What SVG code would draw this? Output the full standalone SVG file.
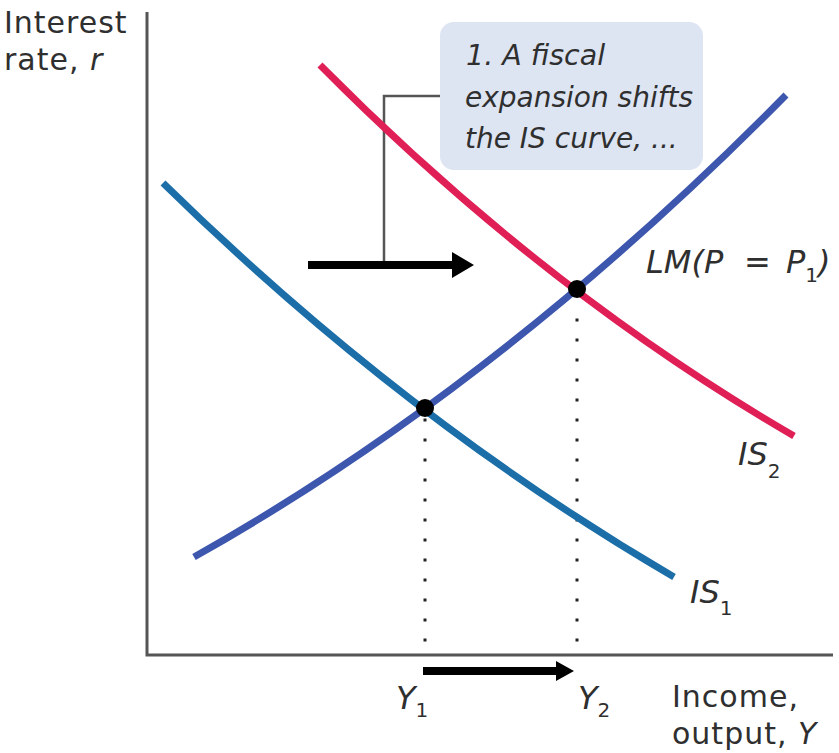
<svg xmlns="http://www.w3.org/2000/svg" width="839" height="753" viewBox="0 0 839 753">
<defs>
<style>
.lbl{font-family:"DejaVu Sans","Open Sans",sans-serif;fill:#2f2f2f;}
.it{font-style:italic;}
.up{font-style:normal;}
.curve{fill:none;stroke-width:7;stroke-linecap:butt;}
.dot{fill:#000;}
.dotted{stroke:#222;stroke-width:3;stroke-dasharray:3 17;fill:none;}
.axis{stroke:#555;stroke-width:3;fill:none;}
.leader{stroke:#555;stroke-width:2.5;fill:none;}
</style>
</defs>
<rect width="839" height="753" fill="#ffffff"/>
<g id="axes">
<path class="axis" d="M147 12 V655 H833"/>
</g>
<g id="axis-labels">
<text class="lbl" x="4" y="33" font-size="30" letter-spacing="1">Interest</text>
<text class="lbl" x="4" y="70" font-size="30" letter-spacing="1">rate, <tspan class="it">r</tspan></text>
<text class="lbl" x="672" y="707" font-size="30" letter-spacing="1">Income,</text>
<text class="lbl" x="672" y="744" font-size="30" letter-spacing="1">output, <tspan class="it">Y</tspan></text>
</g>
<g id="connectors">
<path class="dotted" d="M425 418.5 V642"/>
<path class="dotted" d="M577 318.5 V642"/>
<path class="leader" d="M440 96 H384 V262"/>
<path d="M308 261 H452 V252 L474 265 L452 278 V269 H308 Z" fill="#000"/>
<path d="M423 667 H556 V661 L574 671 L556 681 V675 H423 Z" fill="#000"/>
</g>
<g id="IS1">
<path class="curve" stroke="#1b6ea8" d="M163 183 Q405 420 674 577"/>
<text class="lbl it" x="690" y="603" font-size="32">IS<tspan class="up" font-size="20" dy="12">1</tspan></text>
</g>
<g id="IS2">
<path class="curve" stroke="#df1f56" d="M320 65 Q543.5 290.5 794 436"/>
<text class="lbl it" x="738" y="465" font-size="32">IS<tspan class="up" font-size="20" dy="13">2</tspan></text>
</g>
<g id="LM">
<path class="curve" stroke="#3d56ae" d="M194 557 Q500 385 786 95"/>
<text class="lbl it" x="646" y="273" font-size="32">LM(P<tspan x="744">=</tspan><tspan x="786">P</tspan><tspan class="up" font-size="20" dy="9">1</tspan><tspan dy="-9">)</tspan></text>
</g>
<g id="eq1">
<circle class="dot" cx="425" cy="408" r="9"/>
</g>
<g id="eq2">
<circle class="dot" cx="577" cy="289" r="9"/>
</g>
<g id="Y1">
<text class="lbl it" x="396" y="709" font-size="32">Y<tspan class="up" font-size="20" dy="8">1</tspan></text>
</g>
<g id="Y2">
<text class="lbl it" x="578" y="709" font-size="32">Y<tspan class="up" font-size="20" dy="8">2</tspan></text>
</g>
<g id="callout">
<rect x="440" y="22" width="263" height="148" rx="14" fill="#dde4f2"/>
<text class="lbl it" x="466" y="65" font-size="28.5">1. A fiscal</text>
<text class="lbl it" x="465" y="107" font-size="28">expansion shifts</text>
<text class="lbl it" x="465" y="148" font-size="28">the IS curve, ...</text>
</g>
</svg>
